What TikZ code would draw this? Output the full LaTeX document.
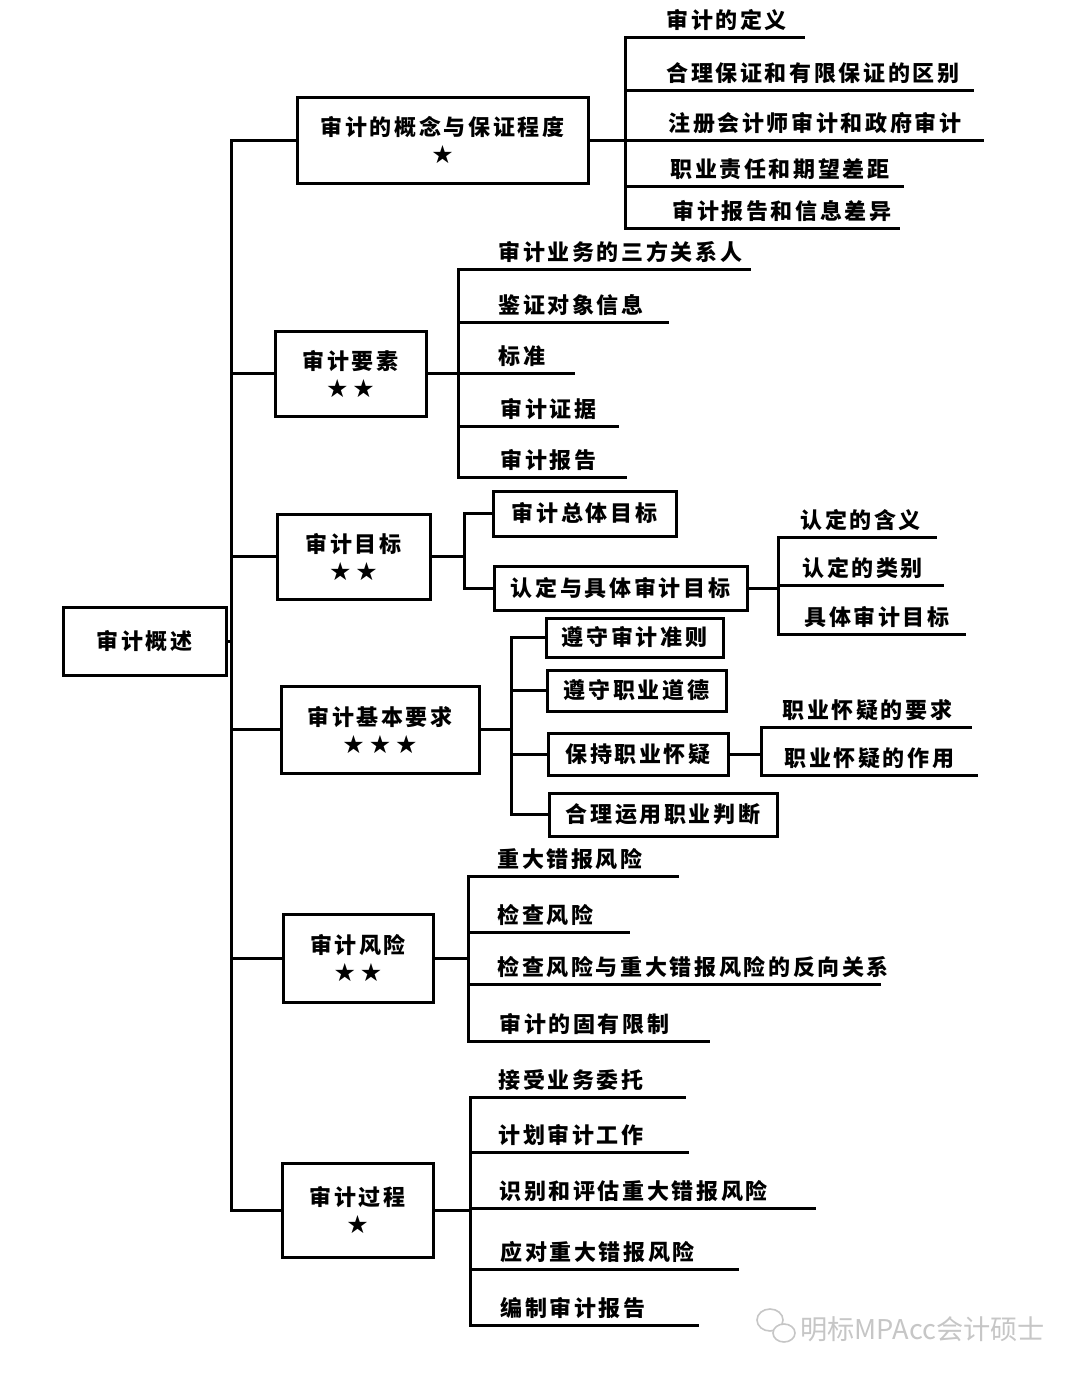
\documentclass[tikz,border=0pt]{standalone}
\usepackage{fontspec}
\newfontfamily\cjk[LetterSpace=12]{Noto Sans CJK SC}
\newfontfamily\cjkwm{Noto Sans CJK SC}
\newfontfamily\symf{DejaVu Sans}
\newcommand\stars[1]{{\symf\fontsize{12.5}{14}\selectfont #1}}
\newcommand\leafnode[6]{%
  \node[leaftext,anchor=base west] (#1) at (#3,#4-9) {#6};
  \coordinate (#1e) at (#5,#4);
  \draw[ln] (#2|-#1e) -- (#1e);}
\begin{document}
\begin{tikzpicture}[x=0.5pt,y=-0.5pt,
  ln/.style={line width=1.5pt,line cap=rect},
  box/.style={draw,line width=1.5pt,inner sep=0pt,align=center,
     font=\cjk\bfseries\fontsize{11}{14}\selectfont},
  bx/.style 2 args={box,minimum width=#1*0.5pt,minimum height=#2*0.5pt},
  leaftext/.style={inner sep=0pt,font=\cjk\bfseries\fontsize{11}{14}\selectfont}]
\useasboundingbox (0,0) rectangle (1080,1377);
\fill[white] (0,0) rectangle (1080,1377);

% root and level-1 boxes
\node[bx={163}{68}] (root) at (144.5,641) {审计概述};
\node[bx={291}{86}] (b1) at (442.5,140) {审计的概念与保证程度\\\stars{★}};
\node[bx={151}{85}] (b2) at (350.5,373.5) {审计要素\\\stars{★\hspace{2pt}★}};
\node[bx={153}{85}] (b3) at (353.5,556.5) {审计目标\\\stars{★\hspace{2pt}★}};
\node[bx={198}{87}] (b4) at (380,729.5) {审计基本要求\\\stars{★\hspace{2pt}★\hspace{2pt}★}};
\node[bx={150}{88}] (b5) at (358,958) {审计风险\\\stars{★\hspace{2pt}★}};
\node[bx={151}{94}] (b6) at (357.5,1210) {审计过程\\\stars{★}};

% main spine
\coordinate (sp) at (231,0);
\draw[ln] (sp|-b1.west) -- (sp|-b6.west);
\draw[ln] (root.east) -- (sp|-root.east);
\foreach \b in {b1,b2,b3,b4,b5,b6} \draw[ln] (sp|-\b.west) -- (\b.west);

% group 1
\coordinate (j1) at (625,140);
\draw[ln] (b1.east) -- (j1);
\leafnode{a1}{j1}{666}{37}{803}{审计的定义}
\leafnode{a2}{j1}{666}{90}{972}{合理保证和有限保证的区别}
\leafnode{a3}{j1}{668}{140}{982}{注册会计师审计和政府审计}
\leafnode{a4}{j1}{670}{186}{902}{职业责任和期望差距}
\leafnode{a5}{j1}{672}{228}{898}{审计报告和信息差异}
\draw[ln] (j1|-a1e) -- (j1|-a5e);

% group 2
\coordinate (j2) at (458,373.5);
\draw[ln] (b2.east) -- (j2);
\leafnode{e1}{j2}{498}{269}{749}{审计业务的三方关系人}
\leafnode{e2}{j2}{498}{322}{667}{鉴证对象信息}
\leafnode{e3}{j2}{498}{373.5}{573}{标准}
\leafnode{e4}{j2}{500}{426}{617}{审计证据}
\leafnode{e5}{j2}{500}{477}{625}{审计报告}
\draw[ln] (j2|-e1e) -- (j2|-e5e);

% group 3
\node[bx={183}{45}] (t1) at (584.5,513.5) {审计总体目标};
\node[bx={253}{44}] (t2) at (620.5,588) {认定与具体审计目标};
\coordinate (j3) at (464,556.5);
\draw[ln] (b3.east) -- (j3);
\draw[ln] (j3|-t1.west) -- (j3|-t2.west);
\draw[ln] (j3|-t1.west) -- (t1.west);
\draw[ln] (j3|-t2.west) -- (t2.west);
\coordinate (j3b) at (778,588);
\draw[ln] (t2.east) -- (j3b);
\leafnode{c1}{j3b}{800}{537}{935}{认定的含义}
\leafnode{c2}{j3b}{802}{585}{942}{认定的类别}
\leafnode{c3}{j3b}{804}{634}{964}{具体审计目标}
\draw[ln] (j3b|-c1e) -- (j3b|-c3e);

% group 4
\node[bx={177}{39}] (r1) at (634.5,637.5) {遵守审计准则};
\node[bx={179}{41}] (r2) at (636.5,690.5) {遵守职业道德};
\node[bx={180}{42}] (r3) at (638,754) {保持职业怀疑};
\node[bx={228}{43}] (r4) at (663,814.5) {合理运用职业判断};
\coordinate (j4) at (511,729.5);
\draw[ln] (b4.east) -- (j4);
\draw[ln] (j4|-r1.west) -- (j4|-r4.west);
\foreach \r in {r1,r2,r3,r4} \draw[ln] (j4|-\r.west) -- (\r.west);
\coordinate (j4b) at (761,754);
\draw[ln] (r3.east) -- (j4b);
\leafnode{q1}{j4b}{782}{727}{970}{职业怀疑的要求}
\leafnode{q2}{j4b}{784}{775}{976}{职业怀疑的作用}
\draw[ln] (j4b|-q1e) -- (j4b|-q2e);

% group 5
\coordinate (j5) at (468,958);
\draw[ln] (b5.east) -- (j5);
\leafnode{f1}{j5}{497}{876}{677}{重大错报风险}
\leafnode{f2}{j5}{497}{932}{628}{检查风险}
\leafnode{f3}{j5}{497}{984}{879}{检查风险与重大错报风险的反向关系}
\leafnode{f4}{j5}{499}{1041}{708}{审计的固有限制}
\draw[ln] (j5|-f1e) -- (j5|-f4e);

% group 6
\coordinate (j6) at (470,1210);
\draw[ln] (b6.east) -- (j6);
\leafnode{g1}{j6}{498}{1097}{684}{接受业务委托}
\leafnode{g2}{j6}{498}{1152}{687}{计划审计工作}
\leafnode{g3}{j6}{499}{1208}{814}{识别和评估重大错报风险}
\leafnode{g4}{j6}{500}{1269}{737}{应对重大错报风险}
\leafnode{g5}{j6}{500}{1325}{697}{编制审计报告}
\draw[ln] (j6|-g1e) -- (j6|-g5e);

% watermark
\draw[gray!45,line width=0.8pt,fill=white] (770,1320) ellipse [x radius=13,y radius=11];
\draw[gray!45,line width=0.8pt,fill=white] (784,1333) ellipse [x radius=11,y radius=9];
\node[anchor=west,inner sep=0pt,text=gray!45,font=\cjkwm\fontsize{13.6}{13.6}\selectfont] (wm) at (800,1329) {明标MPAcc会计硕士};
\end{tikzpicture}
\end{document}
